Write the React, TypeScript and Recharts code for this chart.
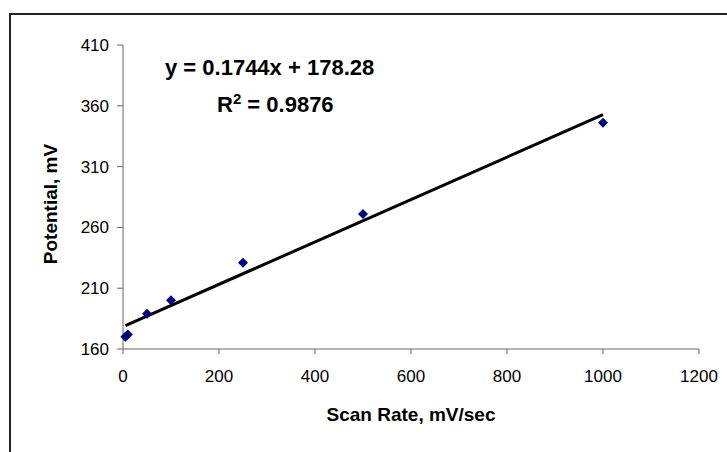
import { ComposedChart, Scatter, XAxis, YAxis, ReferenceLine } from 'recharts'

// scan rate (mV/sec) vs peak potential (mV)
const scanRates = [5, 10, 50, 100, 250, 500, 1000]
const potentials = [170, 172, 189, 200, 231, 271, 346]

const xTicks = [0, 200, 400, 600, 800, 1000, 1200]
const yTicks = [160, 210, 260, 310, 360, 410]

// linear trendline reported on the chart
const slope = 0.1744
const intercept = 178.28
const rSquared = '0.9876'

const points = scanRates.map((x, i) => ({ x, y: potentials[i] }))
const fitStart = scanRates[0]
const fitEnd = scanRates[scanRates.length - 1]
const trendSegment = [
  { x: fitStart, y: slope * fitStart + intercept },
  { x: fitEnd, y: slope * fitEnd + intercept },
]

const font = '"Liberation Sans", Arial, sans-serif'

function Diamond(props: any) {
  const { cx, cy } = props
  const r = 5
  return (
    <polygon
      points={`${cx},${cy - r} ${cx + r},${cy} ${cx},${cy + r} ${cx - r},${cy}`}
      fill="#000080"
    />
  )
}

export default function App() {
  return (
    <div
      style={{
        position: 'fixed',
        left: 0,
        top: 0,
        width: 727,
        height: 452,
        overflow: 'hidden',
        background: '#fff',
        fontFamily: font,
      }}
    >
      {/* chart area frame, only top and left edges are visible */}
      <div
        style={{
          position: 'absolute',
          left: 9,
          top: 13,
          width: 740,
          height: 460,
          borderTop: '2px solid #222',
          borderLeft: '2px solid #222',
        }}
      />
      <div style={{ position: 'absolute', left: 0, top: 0 }}>
        <ComposedChart
          width={727}
          height={452}
          data={points}
          margin={{ top: 45, right: 28, bottom: 0, left: 0 }}
        >
          <XAxis
            type="number"
            dataKey="x"
            domain={[0, 1200]}
            ticks={xTicks}
            interval={0}
            height={103}
            stroke="#666"
            tickSize={5}
            tickMargin={16}
            tick={{ fill: '#000', fontSize: 17, fontFamily: font }}
          />
          <YAxis
            type="number"
            dataKey="y"
            domain={[160, 410]}
            ticks={yTicks}
            interval={0}
            width={123}
            stroke="#666"
            tickSize={6}
            tickMargin={8}
            tick={{ fill: '#000', fontSize: 17, fontFamily: font }}
          />
          <ReferenceLine
            segment={trendSegment}
            stroke="#000"
            strokeWidth={3}
            ifOverflow="visible"
          />
          <Scatter dataKey="y" shape={<Diamond />} isAnimationActive={false} />
        </ComposedChart>
      </div>
      <div
        style={{
          position: 'absolute',
          left: 165,
          top: 55,
          fontSize: 22,
          fontWeight: 'bold',
          whiteSpace: 'nowrap',
          lineHeight: '26px',
        }}
      >
        y = {slope}x + {intercept}
      </div>
      <div
        style={{
          position: 'absolute',
          left: 217,
          top: 92,
          fontSize: 22,
          fontWeight: 'bold',
          whiteSpace: 'nowrap',
          lineHeight: '26px',
        }}
      >
        R<sup style={{ fontSize: 15, lineHeight: 0 }}>2</sup> = {rSquared}
      </div>
      <div
        style={{
          position: 'absolute',
          left: 411,
          top: 415,
          transform: 'translate(-50%, -50%)',
          fontSize: 19,
          fontWeight: 'bold',
          whiteSpace: 'nowrap',
        }}
      >
        Scan Rate, mV/sec
      </div>
      <div
        style={{
          position: 'absolute',
          left: 51,
          top: 204,
          transform: 'translate(-50%, -50%) rotate(-90deg)',
          fontSize: 19,
          fontWeight: 'bold',
          whiteSpace: 'nowrap',
        }}
      >
        Potential, mV
      </div>
    </div>
  )
}
